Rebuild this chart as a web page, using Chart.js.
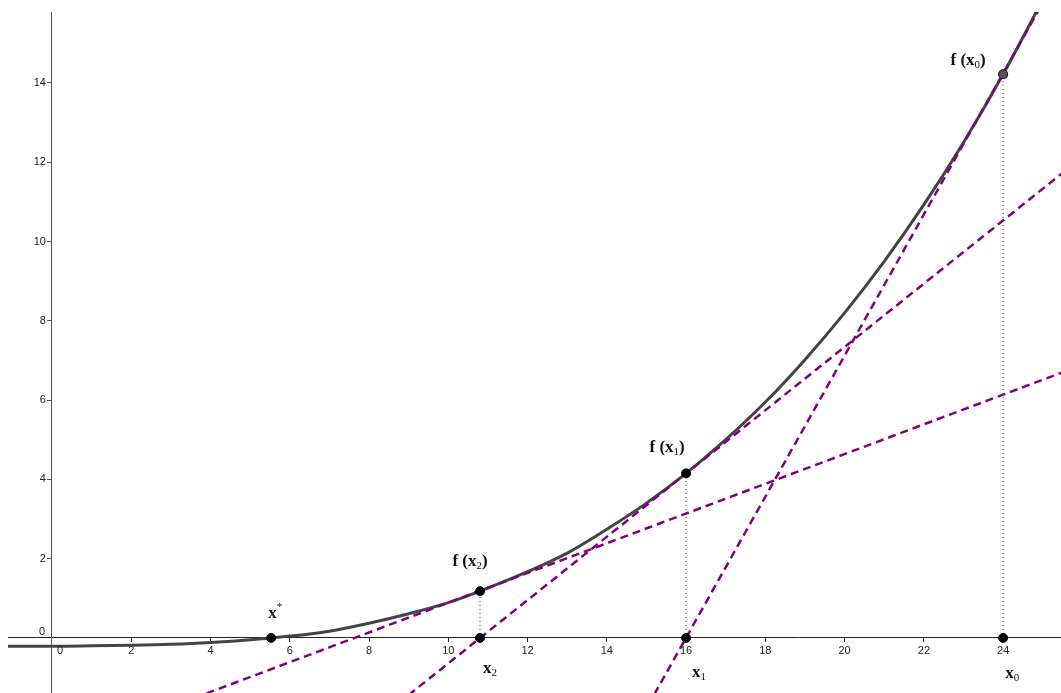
<!DOCTYPE html>
<html>
<head>
<meta charset="utf-8">
<script src="https://cdn.jsdelivr.net/npm/chart.js@4/dist/chart.umd.min.js"></script>
<style>
  html, body { margin: 0; padding: 0; background: #fff; }
  #wrap { width: 1061px; height: 693px; position: relative; }
</style>
</head>
<body>
<div id="wrap"><canvas id="newton-chart"></canvas></div>
<script>
// start: Data
const curveX = [-1.11, 0, 1, 2, 3, 4, 5, 5.53, 6, 6.5, 7, 8, 9, 10, 10.8, 12, 13, 14, 15, 16, 17, 18, 19, 20, 21, 22, 23, 24, 25];
const curveY = [-0.21, -0.21, -0.2, -0.185, -0.16, -0.115, -0.045, 0, 0.045, 0.1, 0.17, 0.37, 0.61, 0.89, 1.18, 1.67, 2.14, 2.74, 3.4, 4.15, 5.0, 5.95, 7.02, 8.2, 9.5, 10.93, 12.5, 14.22, 16.1];

// x0, x1, x2 and f at those points
const iterX = [24, 16, 10.8];
const iterY = [14.22, 4.15, 1.18];
const rootX = 5.53;

// tangent lines, one entry per iteration
const tanStartX = [15.2, 9.0, 3.9];
const tanStartY = [-1.42, -1.44, -1.4];
const tanEndX = [25.1, 25.5, 25.5];
const tanEndY = [16.2, 11.73, 6.7];

const xTicksStep = 2;
const yTicksStep = 2;
// end: Data

const purple = "#800080";

const datasets = [];

// points
datasets.push({
  data: [
    { x: rootX, y: 0 },
    { x: iterX[2], y: 0 },
    { x: iterX[1], y: 0 },
    { x: iterX[0], y: 0 },
    { x: iterX[1], y: iterY[1] },
    { x: iterX[2], y: iterY[2] },
  ],
  showLine: false,
  pointRadius: 4.5,
  pointBackgroundColor: "#000",
  pointBorderColor: "#000",
  pointBorderWidth: 1,
  order: 0,
});
datasets.push({
  data: [{ x: iterX[0], y: iterY[0] }],
  showLine: false,
  pointRadius: 4.5,
  pointBackgroundColor: "#555",
  pointBorderColor: "#1a1a1a",
  pointBorderWidth: 1.2,
  order: 0,
});

// tangents
for (let i = 0; i < tanStartX.length; i++) {
  datasets.push({
    data: [
      { x: tanStartX[i], y: tanStartY[i] },
      { x: tanEndX[i], y: tanEndY[i] },
    ],
    showLine: true,
    borderColor: purple,
    borderWidth: 2.5,
    borderDash: [8, 5],
    pointRadius: 0,
    order: 1,
  });
}

// curve
datasets.push({
  data: curveX.map(function (x, i) {
    return { x: x, y: curveY[i] };
  }),
  showLine: true,
  borderColor: "#444",
  borderWidth: 3,
  pointRadius: 0,
  cubicInterpolationMode: "monotone",
  order: 2,
});

// dotted drops
for (let i = 0; i < iterX.length; i++) {
  datasets.push({
    data: [
      { x: iterX[i], y: 0 },
      { x: iterX[i], y: iterY[i] },
    ],
    showLine: true,
    borderColor: "#333",
    borderWidth: 1,
    borderDash: [1, 3],
    pointRadius: 0,
    order: 3,
  });
}

// start: Labels
const labels = [
  { main: "f (x", sub: "0", tail: ")", x: iterX[0], y: iterY[0], dx: -35, dy: -14 },
  { main: "f (x", sub: "1", tail: ")", x: iterX[1], y: iterY[1], dx: -19, dy: -26 },
  { main: "f (x", sub: "2", tail: ")", x: iterX[2], y: iterY[2], dx: -10, dy: -30 },
  { main: "x", sup: "*", x: rootX, y: 0, dx: 4, dy: -25 },
  { main: "x", sub: "2", x: iterX[2], y: 0, dx: 10, dy: 30 },
  { main: "x", sub: "1", x: iterX[1], y: 0, dx: 13, dy: 34 },
  { main: "x", sub: "0", x: iterX[0], y: 0, dx: 9, dy: 35 },
];

const labelPlugin = {
  id: "labelPlugin",
  afterDatasetsDraw: function (chart) {
    const ctx = chart.ctx;
    const sx = chart.scales.x;
    const sy = chart.scales.y;
    const ox = sx.getPixelForValue(0);
    const oy = sy.getPixelForValue(0);
    ctx.save();
    // zero labels
    ctx.fillStyle = "#222";
    ctx.font = '11px "Liberation Sans", Arial, sans-serif';
    ctx.textBaseline = "middle";
    ctx.textAlign = "center";
    ctx.fillText("0", ox + 8, oy + 13);
    ctx.fillText("0", ox - 10, oy - 6);

    ctx.fillStyle = "#111";
    ctx.textBaseline = "alphabetic";
    ctx.textAlign = "left";
    const bigFont = 'bold 17px "Liberation Serif", "DejaVu Serif", serif';
    const smallFont = '11px "Liberation Serif", "DejaVu Serif", serif';
    labels.forEach(function (l) {
      ctx.font = bigFont;
      const wMain = ctx.measureText(l.main).width;
      const wTail = l.tail ? ctx.measureText(l.tail).width : 0;
      ctx.font = smallFont;
      const extra = l.sub || l.sup || "";
      const wExtra = ctx.measureText(extra).width;
      const total = wMain + wExtra + wTail;
      const cx = sx.getPixelForValue(l.x) + l.dx;
      const cy = sy.getPixelForValue(l.y) + l.dy;
      let x = cx - total / 2;
      const base = cy + 5;
      ctx.font = bigFont;
      ctx.fillText(l.main, x, base);
      x += wMain;
      ctx.font = smallFont;
      if (l.sub) ctx.fillText(l.sub, x, base + 3);
      if (l.sup) ctx.fillText(l.sup, x, base - 8);
      x += wExtra;
      if (l.tail) {
        ctx.font = bigFont;
        ctx.fillText(l.tail, x, base);
      }
    });
    ctx.restore();
  },
};
// end: Labels

const tickFont = { family: '"Liberation Sans", Arial, sans-serif', size: 11 };

function noPadding(s) {
  s.paddingLeft = 0;
  s.paddingRight = 0;
  s.paddingTop = 0;
  s.paddingBottom = 0;
}

new Chart(document.getElementById("newton-chart"), {
  type: "scatter",
  data: { datasets: datasets },
  options: {
    responsive: true,
    maintainAspectRatio: false,
    animation: false,
    layout: {
      autoPadding: false,
      padding: { left: 8, top: 12, right: 0, bottom: 0 },
    },
    plugins: {
      legend: { display: false },
      tooltip: { enabled: false },
    },
    scales: {
      x: {
        type: "linear",
        position: { y: 0 },
        min: -1.11,
        max: 25.46,
        afterFit: function (s) {
          s.height = 0;
          noPadding(s);
        },
        border: { color: "#222", width: 1 },
        grid: {
          drawOnChartArea: false,
          drawTicks: true,
          tickLength: 4,
          color: "#222",
        },
        ticks: {
          stepSize: xTicksStep,
          includeBounds: false,
          autoSkip: false,
          maxRotation: 0,
          padding: 2,
          color: "#222",
          font: tickFont,
          callback: function (v) {
            return v === 0 ? "" : v;
          },
        },
      },
      y: {
        type: "linear",
        position: { x: 0 },
        min: -1.39,
        max: 15.79,
        afterFit: function (s) {
          s.width = 0;
          noPadding(s);
        },
        border: { color: "#555", width: 1 },
        grid: {
          drawOnChartArea: false,
          drawTicks: true,
          tickLength: 4,
          color: "#555",
        },
        ticks: {
          stepSize: yTicksStep,
          includeBounds: false,
          autoSkip: false,
          padding: 1,
          color: "#222",
          font: tickFont,
          // labels sit left of the tick marks
          callback: function (v) {
            return v === 0 ? "" : v + "  ";
          },
        },
      },
    },
  },
  plugins: [labelPlugin],
});
</script>
</body>
</html>
